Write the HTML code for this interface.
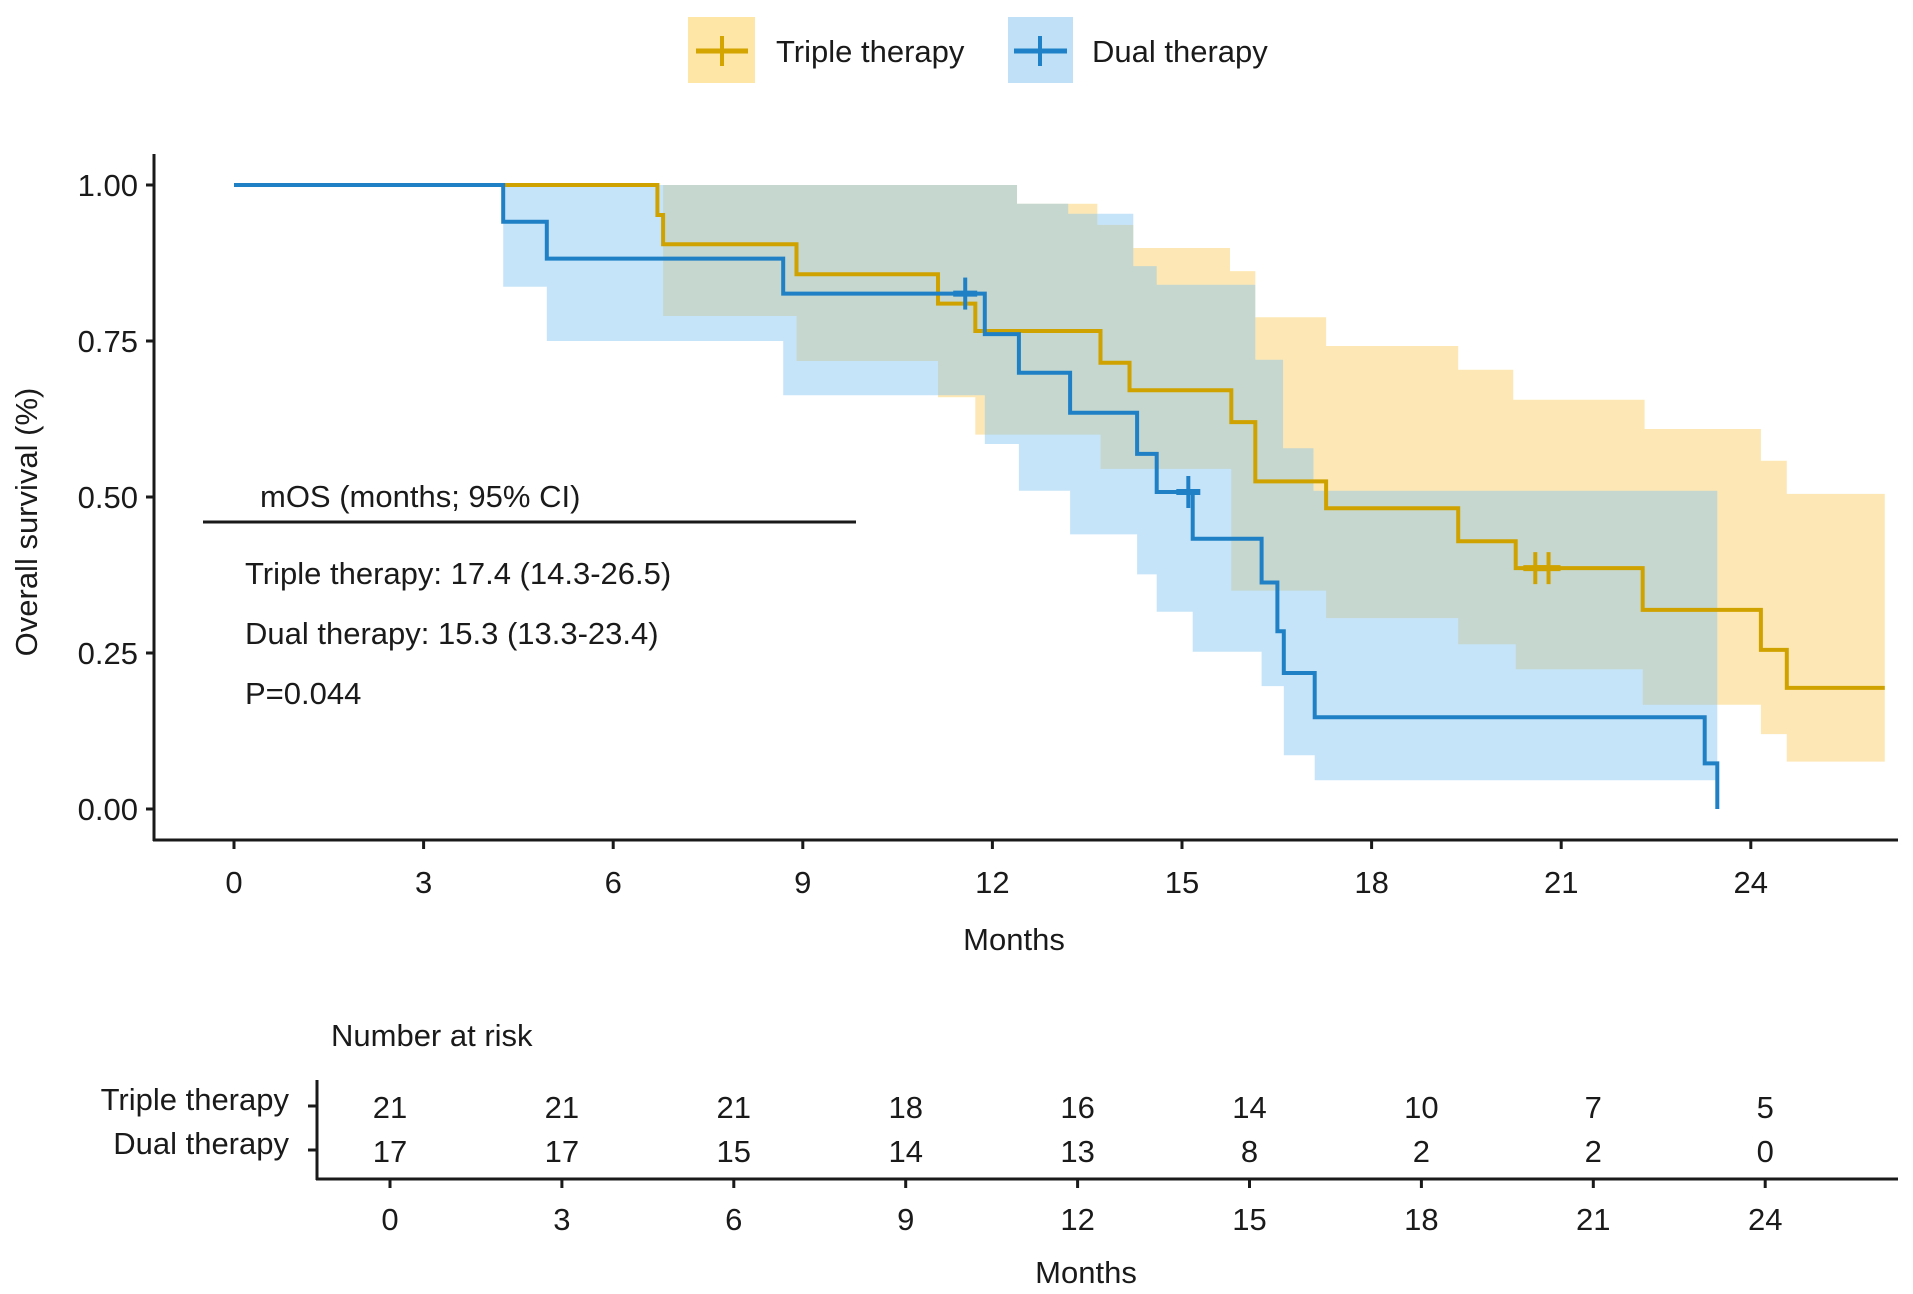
<!DOCTYPE html>
<html><head><meta charset="utf-8"><style>
html,body{margin:0;padding:0;background:#fff}
svg{display:block}
text{font-family:"Liberation Sans",Arial,sans-serif;fill:#1a1a1a}
</style></head><body>
<svg id="chart" width="1913" height="1294" viewBox="0 0 1913 1294">
<g id="legend">
  <g>
    <rect x="688" y="17" width="67" height="66" fill="#fde6a6"/>
    <line x1="696" y1="51" x2="748" y2="51" stroke="#d4a400" stroke-width="5"/>
    <line x1="722" y1="36" x2="722" y2="66" stroke="#d4a400" stroke-width="4"/>
    <text x="776" y="62" font-size="31">Triple therapy</text>
  </g>
  <g>
    <rect x="1008" y="17" width="65" height="66" fill="#bfe0f6"/>
    <line x1="1014" y1="51" x2="1067" y2="51" stroke="#1f82c8" stroke-width="5"/>
    <line x1="1040" y1="36" x2="1040" y2="66" stroke="#1f82c8" stroke-width="4"/>
    <text x="1092" y="62" font-size="31">Dual therapy</text>
  </g>
</g>
<g id="bands"></g>
<g id="curves"></g>
<g id="axes"></g>
<g>
  <text x="260" y="507" font-size="31">mOS (months; 95% CI)</text>
  <line x1="203" y1="522" x2="856" y2="522" stroke="#1a1a1a" stroke-width="3"/>
  <text x="245" y="584" font-size="31">Triple therapy: 17.4 (14.3-26.5)</text>
  <text x="245" y="644" font-size="31">Dual therapy: 15.3 (13.3-23.4)</text>
  <text x="245" y="704" font-size="31">P=0.044</text>
</g>
<g id="risk"></g>
</svg>
<script>
// ---- data ----
const triTimes = [0, 6.70, 6.79, 8.90, 11.14, 11.73, 13.71, 14.17, 15.78, 16.16, 17.28, 19.37, 20.28, 22.29, 24.16, 24.57];
const triSurv  = [1, 0.952, 0.905, 0.857, 0.81, 0.766, 0.715, 0.671, 0.62, 0.525, 0.482, 0.429, 0.386, 0.319, 0.255, 0.194];
const triEnd = 26.12;
const triCensor = [20.59, 20.80];
const triCensorS = [0.386, 0.386];
const triUpT = [0, 12.39, 13.66, 14.23, 15.76, 16.16, 17.28, 19.37, 20.24, 22.32, 24.16, 24.57];
const triUpV = [1, 0.97, 0.936, 0.899, 0.862, 0.788, 0.742, 0.704, 0.656, 0.609, 0.558, 0.505];
const triLoT = [0, 6.79, 8.90, 11.14, 11.73, 13.71, 15.78, 17.28, 19.37, 20.28, 22.29, 24.16, 24.57];
const triLoV = [1, 0.79, 0.718, 0.66, 0.60, 0.545, 0.35, 0.306, 0.264, 0.224, 0.167, 0.12, 0.076];

const dualTimes = [0, 4.26, 4.95, 8.69, 11.88, 12.42, 13.23, 14.29, 14.60, 15.17, 16.26, 16.51, 16.61, 17.10, 23.27, 23.47];
const dualSurv  = [1, 0.941, 0.882, 0.826, 0.761, 0.699, 0.635, 0.569, 0.508, 0.433, 0.363, 0.285, 0.218, 0.147, 0.073, 0];
const dualEnd = 23.47;
const dualCensor = [11.57, 15.10];
const dualCensorS = [0.826, 0.508];
const dualUpT = [0, 12.39, 13.20, 14.23, 14.60, 16.16, 16.60, 17.08];
const dualUpV = [1, 0.97, 0.954, 0.87, 0.84, 0.72, 0.578, 0.51];
const dualLoT = [0, 4.26, 4.95, 8.69, 11.88, 12.42, 13.23, 14.29, 14.60, 15.17, 16.26, 16.61, 17.10];
const dualLoV = [1, 0.837, 0.75, 0.663, 0.585, 0.51, 0.44, 0.376, 0.316, 0.252, 0.197, 0.086, 0.046];

const xTicks = [0, 3, 6, 9, 12, 15, 18, 21, 24];
const yTicks = [0, 0.25, 0.5, 0.75, 1];
const yTickLabels = ["0.00", "0.25", "0.50", "0.75", "1.00"];
const riskGroups = ["Triple therapy", "Dual therapy"];
const riskTriple = [21, 21, 21, 18, 16, 14, 10, 7, 5];
const riskDual = [17, 17, 15, 14, 13, 8, 2, 2, 0];

// ---- scales ----
const NS = "http://www.w3.org/2000/svg";
const X = m => 234 + m * 63.2;
const Y = s => 809 - s * 624;
const RX = m => 390 + m * 57.3;
function mk(tag, attrs, parent) {
  const e = document.createElementNS(NS, tag);
  for (const k in attrs) e.setAttribute(k, attrs[k]);
  parent.appendChild(e);
  return e;
}
function stepPts(T, V, end) {
  const p = [];
  for (let i = 0; i < T.length; i++) {
    if (i > 0) p.push([X(T[i]), Y(V[i - 1])]);
    p.push([X(T[i]), Y(V[i])]);
  }
  p.push([X(end), Y(V[V.length - 1])]);
  return p;
}
function bandPath(uT, uV, lT, lV, end) {
  const up = stepPts(uT, uV, end), lo = stepPts(lT, lV, end).reverse();
  return "M" + up.concat(lo).map(p => p[0].toFixed(1) + "," + p[1].toFixed(1)).join("L") + "Z";
}
const bands = document.getElementById("bands");
const bt = mk("path", {d: bandPath(triUpT, triUpV, triLoT, triLoV, triEnd), fill: "rgb(250,205,90)", "fill-opacity": "0.45"}, bands);


const bd = mk("path", {d: bandPath(dualUpT, dualUpV, dualLoT, dualLoV, dualEnd), fill: "rgb(120,190,240)", "fill-opacity": "0.42"}, bands);



const curves = document.getElementById("curves");
function drawCurve(T, V, end, color, name, cT, cS) {
  const pts = stepPts(T, V, end);
  const p = mk("path", {d: "M" + pts.map(q => q[0].toFixed(1) + "," + q[1].toFixed(1)).join("L"), fill: "none", stroke: color, "stroke-width": "4"}, curves);
  
  
  for (let i = 0; i < cT.length; i++) {
    const g = mk("g", {}, curves);
    
    
    mk("line", {x1: X(cT[i]), x2: X(cT[i]), y1: Y(cS[i]) - 16, y2: Y(cS[i]) + 16, stroke: color, "stroke-width": "4"}, g);
    mk("line", {x1: X(cT[i]) - 12, x2: X(cT[i]) + 12, y1: Y(cS[i]), y2: Y(cS[i]), stroke: color, "stroke-width": "6"}, g);
  }
}
drawCurve(triTimes, triSurv, triEnd, "#d0a200", "triple", triCensor, triCensorS);
drawCurve(dualTimes, dualSurv, dualEnd, "#1f80c6", "dual", dualCensor, dualCensorS);

const axes = document.getElementById("axes");
let a = mk("line", {x1: 154, y1: 154, x2: 154, y2: 841, stroke: "#1a1a1a", "stroke-width": "3"}, axes);


a = mk("line", {x1: 153, y1: 840, x2: 1898, y2: 840, stroke: "#1a1a1a", "stroke-width": "3"}, axes);


yTicks.forEach((v, i) => {
  mk("line", {x1: 146, x2: 154, y1: Y(v), y2: Y(v), stroke: "#1a1a1a", "stroke-width": "3"}, axes);
  const t = mk("text", {x: 138, y: Y(v) + 11, "font-size": "31", "text-anchor": "end"}, axes);
  t.textContent = yTickLabels[i];
  
  
});
xTicks.forEach(m => {
  mk("line", {x1: X(m), x2: X(m), y1: 840, y2: 849, stroke: "#1a1a1a", "stroke-width": "3"}, axes);
  const t = mk("text", {x: X(m), y: 893, "font-size": "31", "text-anchor": "middle"}, axes);
  t.textContent = m;
  
  
});
let t = mk("text", {x: 1014, y: 950, "font-size": "31", "text-anchor": "middle"}, axes);
t.textContent = "Months";


t = mk("text", {x: 0, y: 0, "font-size": "31", "text-anchor": "middle", transform: "translate(37,522) rotate(-90)"}, axes);
t.textContent = "Overall survival (%)";



// risk table
const risk = document.getElementById("risk");
t = mk("text", {x: 331, y: 1046, "font-size": "31"}, risk);
t.textContent = "Number at risk";


a = mk("line", {x1: 317, y1: 1080, x2: 317, y2: 1180, stroke: "#1a1a1a", "stroke-width": "3"}, risk);


a = mk("line", {x1: 316, y1: 1179, x2: 1898, y2: 1179, stroke: "#1a1a1a", "stroke-width": "3"}, risk);


const rowY = [1106, 1150];
riskGroups.forEach((g, i) => {
  mk("line", {x1: 308, x2: 317, y1: rowY[i], y2: rowY[i], stroke: "#1a1a1a", "stroke-width": "3"}, risk);
  const l = mk("text", {x: 289, y: rowY[i] + 4, "font-size": "31", "text-anchor": "end"}, risk);
  l.textContent = g;
  
  
});
xTicks.forEach((m, j) => {
  [riskTriple, riskDual].forEach((arr, i) => {
    const c = mk("text", {x: RX(m), y: rowY[i] + 12, "font-size": "31", "text-anchor": "middle"}, risk);
    c.textContent = arr[j];
    
    
  });
  mk("line", {x1: RX(m), x2: RX(m), y1: 1179, y2: 1188, stroke: "#1a1a1a", "stroke-width": "3"}, risk);
  const tl = mk("text", {x: RX(m), y: 1230, "font-size": "31", "text-anchor": "middle"}, risk);
  tl.textContent = m;
  
  
});
t = mk("text", {x: 1086, y: 1283, "font-size": "31", "text-anchor": "middle"}, risk);
t.textContent = "Months";


</script>
</body></html>
